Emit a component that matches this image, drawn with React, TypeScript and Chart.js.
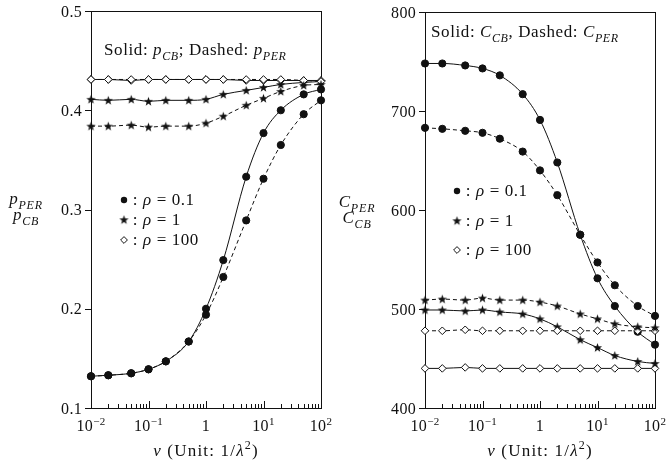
import React, { useEffect, useRef } from "react";
import { Chart, registerables } from "chart.js";
Chart.register(...registerables);

const nu = [0.01, 0.02, 0.05, 0.1, 0.2, 0.5, 1, 2, 5, 10, 20, 50, 100];

const pCB_rho01 = [0.132, 0.133, 0.135, 0.139, 0.147, 0.167, 0.2, 0.249, 0.333, 0.377, 0.4, 0.416, 0.421];
const pPER_rho01 = [0.132, 0.133, 0.135, 0.139, 0.147, 0.167, 0.194, 0.232, 0.289, 0.331, 0.365, 0.396, 0.41];
const pCB_rho1 = [0.411, 0.41, 0.411, 0.409, 0.41, 0.41, 0.411, 0.416, 0.42, 0.423, 0.426, 0.428, 0.429];
const pPER_rho1 = [0.384, 0.384, 0.385, 0.383, 0.384, 0.384, 0.387, 0.394, 0.405, 0.412, 0.419, 0.425, 0.426];
const pCB_rho100 = [0.431, 0.431, 0.43, 0.431, 0.431, 0.431, 0.431, 0.431, 0.43, 0.43, 0.43, 0.43, 0.43];
const pPER_rho100 = [0.431, 0.431, 0.431, 0.431, 0.431, 0.431, 0.431, 0.431, 0.431, 0.431, 0.431, 0.43, 0.429];

const cCB_rho01 = [748, 748, 746, 743, 736, 717, 691, 648, 575, 531, 503, 477, 464];
const cPER_rho01 = [683, 682, 680, 678, 672, 659, 640, 615, 575, 547, 524, 503, 493];
const cCB_rho1 = [499, 499, 498, 499, 497, 495, 490, 482, 469, 461, 453, 447, 445];
const cPER_rho1 = [509, 510, 509, 511, 509, 509, 507, 503, 495, 490, 485, 482, 481];
const cCB_rho100 = [440, 440, 441, 440, 440, 440, 440, 440, 440, 440, 440, 440, 440];
const cPER_rho100 = [478, 478, 479, 478, 478, 478, 478, 478, 478, 478, 478, 478, 478];

const leftYTicks = [0.1, 0.2, 0.3, 0.4, 0.5];
const rightYTicks = [400, 500, 600, 700, 800];
const xDecades = [-2, -1, 0, 1, 2];
const legendLabels = ["0.1", "1", "100"];

const FONT = '"Liberation Serif", "DejaVu Serif", serif';
const INK = "#111";

type Seg = { t: string; it?: boolean; sub?: boolean; sup?: boolean };

function segFont(s: Seg, size: number) {
  const sz = s.sub || s.sup ? Math.round(size * 0.7) : size;
  return `${s.it ? "italic " : ""}${sz}px ${FONT}`;
}

function drawRich(
  ctx: CanvasRenderingContext2D,
  segs: Seg[],
  x: number,
  y: number,
  size: number,
  align: "left" | "center" | "right" = "left",
  spacing = 0
) {
  ctx.save();
  ctx.textBaseline = "alphabetic";
  ctx.textAlign = "left";
  (ctx as any).letterSpacing = spacing + "px";
  let w = 0;
  for (const s of segs) {
    ctx.font = segFont(s, size);
    w += ctx.measureText(s.t).width;
  }
  let cx = align === "center" ? x - w / 2 : align === "right" ? x - w : x;
  for (const s of segs) {
    ctx.font = segFont(s, size);
    const dy = s.sub ? size * 0.28 : s.sup ? -size * 0.4 : 0;
    ctx.fillStyle = INK;
    ctx.fillText(s.t, cx, y + dy);
    cx += ctx.measureText(s.t).width;
  }
  ctx.restore();
}

function makeStar(): HTMLCanvasElement {
  const c = document.createElement("canvas");
  c.width = 11;
  c.height = 11;
  const g = c.getContext("2d")!;
  g.fillStyle = INK;
  g.beginPath();
  for (let i = 0; i < 10; i++) {
    const r = i % 2 === 0 ? 4.8 : 2.0;
    const a = -Math.PI / 2 + (i * Math.PI) / 5;
    const px = 5.5 + r * Math.cos(a);
    const py = 5.8 + r * Math.sin(a);
    if (i === 0) g.moveTo(px, py);
    else g.lineTo(px, py);
  }
  g.closePath();
  g.fill();
  return c;
}

type Spec = {
  solid: number[][];
  dashed: number[][];
  yMin: number;
  yMax: number;
  yTicks: number[];
  fmt: (v: number) => string;
  padding: { left: number; right: number; top: number; bottom: number };
  note: Seg[];
  noteX: number;
  noteY: number;
  legX: number;
  legY: number[];
  yTitle: Seg[][];
  yTitleX: number;
  yTitleY: number[];
};

function Panel({ spec, left }: { spec: Spec; left: number }) {
  const ref = useRef<HTMLCanvasElement>(null);
  useEffect(() => {
    const star = makeStar();
    const styles: any[] = ["circle", star, "rectRot"];
    const mk = (vals: number[], idx: number, dashed: boolean) => ({
      data: nu.map((x, i) => ({ x, y: vals[i] })),
      borderColor: INK,
      borderWidth: 1,
      borderDash: dashed ? [4, 3] : [],
      pointStyle: styles[idx],
      pointRadius: idx === 0 ? 3.6 : 3.8,
      pointBackgroundColor: idx === 2 ? "#fff" : INK,
      pointBorderColor: INK,
      pointBorderWidth: 1,
      cubicInterpolationMode: "monotone" as const,
      clip: false as any,
    });
    const datasets: any[] = [];
    spec.dashed.forEach((v, i) => datasets.push(mk(v, i, true)));
    spec.solid.forEach((v, i) => datasets.push(mk(v, i, false)));

    const framePlugin = {
      id: "frame",
      beforeDatasetsDraw(chart: any) {
        const { ctx, chartArea: a } = chart;
        const xs = chart.scales.x;
        const ys = chart.scales.y;
        ctx.save();
        ctx.strokeStyle = INK;
        ctx.lineWidth = 1;
        ctx.strokeRect(Math.round(a.left) + 0.5, Math.round(a.top) + 0.5, Math.round(a.right - a.left), Math.round(a.bottom - a.top));
        ctx.beginPath();
        for (const d of xDecades) {
          const px = Math.round(xs.getPixelForValue(Math.pow(10, d))) + 0.5;
          ctx.moveTo(px, a.bottom);
          ctx.lineTo(px, a.bottom - 7);
          if (d < 2) {
            for (let k = 2; k <= 9; k++) {
              const mx = Math.round(xs.getPixelForValue(k * Math.pow(10, d))) + 0.5;
              ctx.moveTo(mx, a.bottom);
              ctx.lineTo(mx, a.bottom - 4);
            }
          }
        }
        for (const v of spec.yTicks) {
          const py = Math.round(ys.getPixelForValue(v)) + 0.5;
          ctx.moveTo(a.left - 6, py);
          ctx.lineTo(a.left, py);
        }
        ctx.stroke();
        ctx.restore();
      },
      afterDraw(chart: any) {
        const { ctx, chartArea: a } = chart;
        const xs = chart.scales.x;
        const ys = chart.scales.y;
        for (const v of spec.yTicks) {
          const py = ys.getPixelForValue(v);
          drawRich(ctx, [{ t: spec.fmt(v) }], a.left - 9, py + 5.5, 16, "right", 0.3);
        }
        for (const d of xDecades) {
          const px = xs.getPixelForValue(Math.pow(10, d));
          const segs: Seg[] = d === 0 ? [{ t: "1" }] : [{ t: "10" }, { t: d < 0 ? "\u2212" + -d : String(d), sup: true }];
          drawRich(ctx, segs, px, a.bottom + 23, 16, "center", 0.3);
        }
        drawRich(
          ctx,
          [{ t: "\u03bd", it: true }, { t: " (Unit: 1/" }, { t: "\u03bb", it: true }, { t: "2", sup: true }, { t: ")" }],
          (a.left + a.right) / 2,
          a.bottom + 48,
          17,
          "center",
          1.2
        );
        spec.yTitle.forEach((segs, i) => drawRich(ctx, segs, spec.yTitleX, spec.yTitleY[i], 17, "center", 0.8));
        drawRich(ctx, spec.note, spec.noteX, spec.noteY, 17, "left", 0.6);
        spec.legY.forEach((ly, i) => {
          ctx.save();
          ctx.fillStyle = INK;
          ctx.strokeStyle = INK;
          ctx.lineWidth = 1;
          const mx = spec.legX;
          const my = ly - 5;
          if (i === 0) {
            ctx.beginPath();
            ctx.arc(mx, my, 3.2, 0, Math.PI * 2);
            ctx.fill();
          } else if (i === 1) {
            ctx.drawImage(star, mx - 5.5, my - 5.8);
          } else {
            ctx.beginPath();
            ctx.moveTo(mx, my - 3.4);
            ctx.lineTo(mx + 3.4, my);
            ctx.lineTo(mx, my + 3.4);
            ctx.lineTo(mx - 3.4, my);
            ctx.closePath();
            ctx.fillStyle = "#fff";
            ctx.fill();
            ctx.stroke();
          }
          ctx.restore();
          drawRich(ctx, [{ t: " : " }, { t: "\u03c1", it: true }, { t: " = " + legendLabels[i] }], mx + 4, ly, 17, "left", 0.6);
        });
      },
    };

    const chart = new Chart(ref.current!, {
      type: "line",
      data: { datasets },
      options: {
        animation: false,
        responsive: false,
        events: [],
        layout: { padding: spec.padding },
        scales: {
          x: { type: "logarithmic", min: 0.01, max: 100, display: false },
          y: { type: "linear", min: spec.yMin, max: spec.yMax, display: false },
        },
        plugins: { legend: { display: false }, tooltip: { enabled: false } },
      },
      plugins: [framePlugin],
    } as any);
    return () => chart.destroy();
  }, [spec]);
  return (
    <canvas
      ref={ref}
      width={333}
      height={466}
      style={{ position: "absolute", left, top: 0, width: 333, height: 466 }}
    />
  );
}

const leftSpec: Spec = {
  solid: [pCB_rho01, pCB_rho1, pCB_rho100],
  dashed: [pPER_rho01, pPER_rho1, pPER_rho100],
  yMin: 0.1,
  yMax: 0.5,
  yTicks: leftYTicks,
  fmt: (v) => v.toFixed(1),
  padding: { left: 91, right: 12, top: 11, bottom: 58 },
  note: [{ t: "Solid: " }, { t: "p", it: true }, { t: "CB", it: true, sub: true }, { t: "; Dashed: " }, { t: "p", it: true }, { t: "PER", it: true, sub: true }],
  noteX: 104,
  noteY: 55,
  legX: 124,
  legY: [205, 225, 245],
  yTitle: [
    [{ t: "p", it: true }, { t: "PER", it: true, sub: true }],
    [{ t: "p", it: true }, { t: "CB", it: true, sub: true }],
  ],
  yTitleX: 26,
  yTitleY: [204, 220],
};

const rightSpec: Spec = {
  solid: [cCB_rho01, cCB_rho1, cCB_rho100],
  dashed: [cPER_rho01, cPER_rho1, cPER_rho100],
  yMin: 400,
  yMax: 800,
  yTicks: rightYTicks,
  fmt: (v) => String(v),
  padding: { left: 92, right: 11, top: 12, bottom: 58 },
  note: [{ t: "Solid: " }, { t: "C", it: true }, { t: "CB", it: true, sub: true }, { t: ", Dashed: " }, { t: "C", it: true }, { t: "PER", it: true, sub: true }],
  noteX: 98,
  noteY: 37,
  legX: 124,
  legY: [196, 226, 255],
  yTitle: [
    [{ t: "C", it: true }, { t: "PER", it: true, sub: true }],
    [{ t: "C", it: true }, { t: "CB", it: true, sub: true }],
  ],
  yTitleX: 24,
  yTitleY: [207, 223],
};

export default function App() {
  return (
    <div style={{ position: "fixed", left: 0, top: 0, width: 666, height: 466, background: "#fff" }}>
      <Panel spec={leftSpec} left={0} />
      <Panel spec={rightSpec} left={333} />
    </div>
  );
}
